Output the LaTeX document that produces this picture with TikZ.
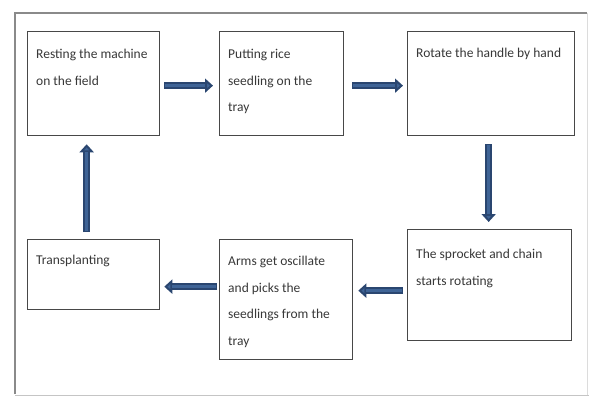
\documentclass[tikz,border=0pt]{standalone}
\usepackage{fontspec}
\setmainfont{Carlito}
\usetikzlibrary{arrows.meta}
\definecolor{frame}{HTML}{8A8A8A}
\definecolor{boxline}{HTML}{484848}
\definecolor{txtcol}{HTML}{383838}
\definecolor{arrowfill}{HTML}{3F6496}
\definecolor{arrowdark}{HTML}{2A4670}
\tikzset{
  box/.style={draw=boxline, line width=1.3pt, anchor=north west, inner sep=0pt, fill=white},
  txt/.style={anchor=north west, inner sep=0pt, align=left, text=txtcol,
    font=\fontsize{13.5}{26.5}\selectfont},
  flow/.style={draw=arrowdark, line width=6.5pt,
    -{Triangle[length=8pt,width=14pt,fill=arrowfill]}},
  flowin/.style={draw=arrowfill, line width=3pt, shorten >=5pt}
}
\begin{document}
\begin{tikzpicture}[x=1pt,y=-1pt]
\useasboundingbox (0,0) rectangle (589,396);
\fill[white] (0,0) rectangle (589,396);
% outer frame
\draw[frame, line width=1.5pt] (15,394) -- (15,13) -- (587,13);
\draw[frame!50, line width=1pt] (15,395) -- (589,395);
\draw[frame!30, line width=0.6pt] (587,13) -- (587,395);
% boxes
\node[box, minimum width=132pt, minimum height=104pt] (b1) at (27,31) {};
\node[box, minimum width=124pt, minimum height=104pt] (b2) at (219,31) {};
\node[box, minimum width=167pt, minimum height=104pt] (b3) at (407,31) {};
\node[box, minimum width=164pt, minimum height=111pt] (b4) at (407,229) {};
\node[box, minimum width=133pt, minimum height=120pt] (b5) at (219,239) {};
\node[box, minimum width=132pt, minimum height=70pt] (b6) at (27,239) {};
% texts
\node[txt] (t1) at ([xshift=9pt,yshift=-9pt]b1.north west) {\strut Resting the machine\\on the field};
\node[txt] (t2) at ([xshift=9pt,yshift=-9pt]b2.north west) {\strut Putting rice\\seedling on the\\tray};
\node[txt] (t3) at ([xshift=9pt,yshift=-8pt]b3.north west) {\strut Rotate the handle by hand};
\node[txt] (t4) at ([xshift=9pt,yshift=-11pt]b4.north west) {\strut The sprocket and chain\\starts rotating};
\node[txt] (t5) at ([xshift=9pt,yshift=-8pt]b5.north west) {\strut Arms get oscillate\\and picks the\\seedlings from the\\tray};
\node[txt] (t6) at ([xshift=9pt,yshift=-7pt]b6.north west) {\strut Transplanting};
% connector coordinates
\coordinate (a1s) at ([xshift=4pt,yshift=-2pt]b1.east);
\coordinate (a1e) at (a1s -| b2.west);
\coordinate (a2s) at ([xshift=8pt,yshift=-2pt]b2.east);
\coordinate (a2e) at (a2s -| b3.west);
\coordinate (a3s) at ([xshift=-2.5pt,yshift=-8pt]b3.south);
\coordinate (a3e) at (a3s |- b4.north);
\coordinate (a4s) at ([yshift=-5.5pt]b4.west);
\coordinate (a4e) at (a4s -| b5.east);
\coordinate (a5s) at ([xshift=-2pt,yshift=13pt]b5.west);
\coordinate (a5e) at (a5s -| b6.east);
\coordinate (a6s) at ([xshift=-7pt,yshift=7pt]b6.north);
\coordinate (a6e) at (a6s |- b1.south);
% connectors
\draw[flow, shorten >=6pt] (a1s) -- (a1e);
\draw[flow, shorten >=4pt] (a2s) -- (a2e);
\draw[flow, shorten >=7pt] (a3s) -- (a3e);
\draw[flow, shorten <=4pt, shorten >=5pt] (a4s) -- (a4e);
\draw[flow, shorten >=4pt] (a5s) -- (a5e);
\draw[flow, shorten >=8pt] (a6s) -- (a6e);
\draw[flowin, shorten >=14pt, shorten <=1pt] (a1s) -- (a1e);
\draw[flowin, shorten >=12pt, shorten <=1pt] (a2s) -- (a2e);
\draw[flowin, shorten >=15pt, shorten <=1pt] (a3s) -- (a3e);
\draw[flowin, shorten <=5pt, shorten >=13pt] (a4s) -- (a4e);
\draw[flowin, shorten >=12pt, shorten <=1pt] (a5s) -- (a5e);
\draw[flowin, shorten >=16pt, shorten <=1pt] (a6s) -- (a6e);
\end{tikzpicture}
\end{document}
